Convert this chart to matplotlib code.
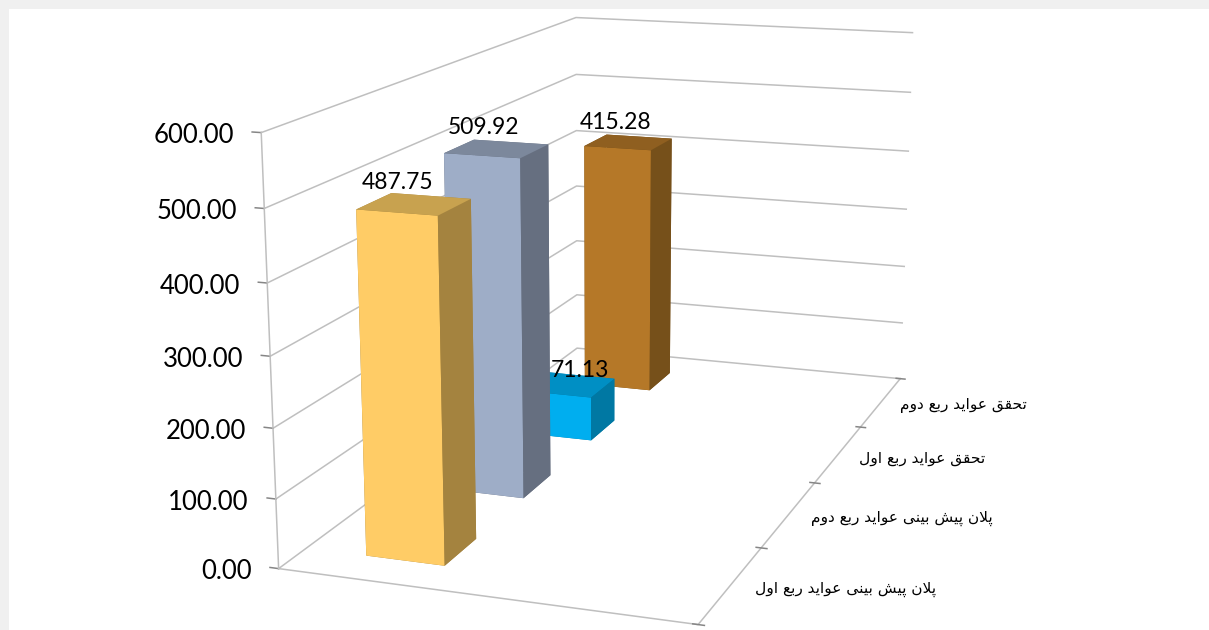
# 3D bars drawn with mplot3d, camera fitted on the corners of the chart box
import numpy as np
import matplotlib
matplotlib.use("Agg")
import matplotlib.pyplot as plt
from matplotlib.patches import Rectangle
from mpl_toolkits.mplot3d import Axes3D

W, H = 1209, 630

categories = ["پلان پیش بینی عواید ربع اول", "پلان پیش بینی عواید ربع دوم",
              "تحقق عواید ربع اول", "تحقق عواید ربع دوم"]
values = [487.75, 509.92, 71.13, 415.28]
z_ticks = [0, 100, 200, 300, 400, 500, 600]

front_colors = ["#FFCC66", "#9EADC7", "#00AEEF", "#B57828"]
top_colors = ["#C8A24F", "#7C889C", "#008FC4", "#8F5F20"]
side_colors = ["#A4833F", "#666F80", "#0078A3", "#76501A"]

# (x, depth, z) -> pixel, read on the picture, only used to fit the camera
calib_xyz = [(0, 0, 0), (0, 0, 600), (0, 0, 300), (1, 0, 0), (0, 1, 0), (0, 1, 600),
             (1, 1, 0), (1, 1, 600), (1, .25, 0), (1, .5, 0), (1, .75, 0)]
calib_px = [(278, 568), (262, 133), (270, 356), (697, 625), (578, 349), (575, 17),
            (899, 378), (913, 33), (762, 548), (815, 483), (861, 427)]

# arabic letters -> isolated, final, initial, medial
FORMS = {"ا": (0xFE8D, 0xFE8E), "ب": (0xFE8F, 0xFE90, 0xFE91, 0xFE92), "پ": (0xFB56, 0xFB57, 0xFB58, 0xFB59),
         "ت": (0xFE95, 0xFE96, 0xFE97, 0xFE98), "ح": (0xFEA1, 0xFEA2, 0xFEA3, 0xFEA4), "د": (0xFEA9, 0xFEAA),
         "ر": (0xFEAD, 0xFEAE), "ش": (0xFEB5, 0xFEB6, 0xFEB7, 0xFEB8), "ع": (0xFEC9, 0xFECA, 0xFECB, 0xFECC),
         "ق": (0xFED5, 0xFED6, 0xFED7, 0xFED8), "ل": (0xFEDD, 0xFEDE, 0xFEDF, 0xFEE0), "م": (0xFEE1, 0xFEE2, 0xFEE3, 0xFEE4),
         "ن": (0xFEE5, 0xFEE6, 0xFEE7, 0xFEE8), "و": (0xFEED, 0xFEEE), "ی": (0xFBFC, 0xFBFD, 0xFBFE, 0xFBFF)}


def shape(text):
    # matplotlib does no arabic shaping: pick the joined forms, then reverse
    text = text.replace("لا", "\uFEFB")
    out = []
    for i, c in enumerate(text):
        prev = text[i-1] if i > 0 else " "
        nxt = text[i+1] if i < len(text)-1 else " "
        joins_prev = prev in FORMS and len(FORMS[prev]) == 4
        joins_next = nxt in FORMS or nxt == "\uFEFB"
        if c == "\uFEFB":
            out.append("\uFEFC" if joins_prev else c)
        elif c not in FORMS:
            out.append(c)
        else:
            f = FORMS[c]
            if len(f) == 2:
                out.append(chr(f[1] if joins_prev else f[0]))
            elif joins_prev and joins_next:
                out.append(chr(f[3]))
            elif joins_prev:
                out.append(chr(f[1]))
            elif joins_next:
                out.append(chr(f[2]))
            else:
                out.append(chr(f[0]))
    return "".join(out[::-1])


def fit_camera(xyz, px):
    rows, rhs = [], []
    for (x, y, z), (u, v) in zip(xyz, px):
        rows.append([x, y, z, 1, 0, 0, 0, 0, -u*x, -u*y, -u*z])
        rows.append([0, 0, 0, 0, x, y, z, 1, -v*x, -v*y, -v*z])
        rhs += [u, v]
    p = np.linalg.lstsq(np.array(rows, float), np.array(rhs, float), rcond=None)[0]
    return np.append(p, 1).reshape(3, 4)


fig = plt.figure(figsize=(W/100, H/100), dpi=100, facecolor="#F0F0F0")
fig.add_artist(Rectangle((9/W, 0), 1-9/W, 1-9/H, transform=fig.transFigure, fc="white", ec="none", zorder=-1))

ax = fig.add_axes([0, 0, 1, 1], projection="3d", computed_zorder=False)
ax.set_axis_off()
ax.patch.set_visible(False)
# ortho only so that lines are not clipped, the real camera is get_proj below
ax.set_proj_type("ortho")

P = fit_camera(calib_xyz, calib_px)


def get_proj():
    # picture pixels -> whatever 2d limits the 3d axes use just now
    inv = ax.transData.inverted()
    (x0, y0), (x1, y1) = inv.transform([(0, H), (W, 0)])
    to_view = np.array([[(x1-x0)/W, 0, x0], [0, (y1-y0)/H, y0], [0, 0, 1]])
    Q = to_view @ P
    return np.array([Q[0], Q[1], [-.5, 1, -.5/600, 3], Q[2]])


ax.apply_aspect = lambda position=None: None
ax.get_proj = get_proj


def put_text(x, d, z, s, du=0, dv=0, **kw):
    # flat text at a projected point, du/dv in pixels
    u, v, w = P @ np.array([x, d, z, 1.])
    ax.text2D((u/w+du)/W, 1-(v/w+dv)/H, s, transform=ax.transAxes, color="black", **kw)


grid = "#BFBFBF"
tick = "#868686"
for z in z_ticks:
    ax.plot([0, 0, 1], [0, 1, 1], [z, z, z], color=grid, lw=1.1, zorder=1)
    ax.plot([-.022, 0], [0, 0], [z, z], color=tick, lw=1.1, zorder=1)
    put_text(0, 0, z, "%.2f" % z, du=-27, dv=3, ha="right", va="center", fontsize=18.5, family="Lato", zorder=20)
ax.plot([0, 0], [0, 0], [0, 600], color=grid, lw=1.1, zorder=1)
ax.plot([0, 1, 1], [0, 0, 1], [0, 0, 0], color=grid, lw=1.1, zorder=1)

n = len(values)
bar_x0, bar_dx = .153, .197
bar_pad, bar_dd = .072, .095
label_dx = [.002, .004, .068, -.006]
for i in range(n):
    ax.plot([.988, 1.014], [i/n, i/n], [0, 0], color=tick, lw=1.1, zorder=1)
ax.plot([.988, 1.014], [1, 1], [0, 0], color=tick, lw=1.1, zorder=1)

for i in range(n):
    d0 = i/n + bar_pad
    faces = [side_colors[i], top_colors[i], front_colors[i], side_colors[i], side_colors[i], side_colors[i]]
    ax.bar3d(bar_x0, d0, 0, bar_dx, bar_dd, values[i], color=faces, shade=False, edgecolor="none", zorder=10-i)
    # the label of the small bar sits behind the bar in front of it
    put_text(bar_x0+bar_dx/2+label_dx[i], d0, values[i]+26, "%.2f" % values[i], ha="center", va="bottom",
             fontsize=16.5, family="Lato", zorder=10-i)
    put_text(1.055, (i+.5)/n, 0, shape(categories[i]), dv=2, ha="left", va="center", fontsize=11.1,
             family="DejaVu Sans", zorder=20)

fig.savefig("out.png", dpi=100)
